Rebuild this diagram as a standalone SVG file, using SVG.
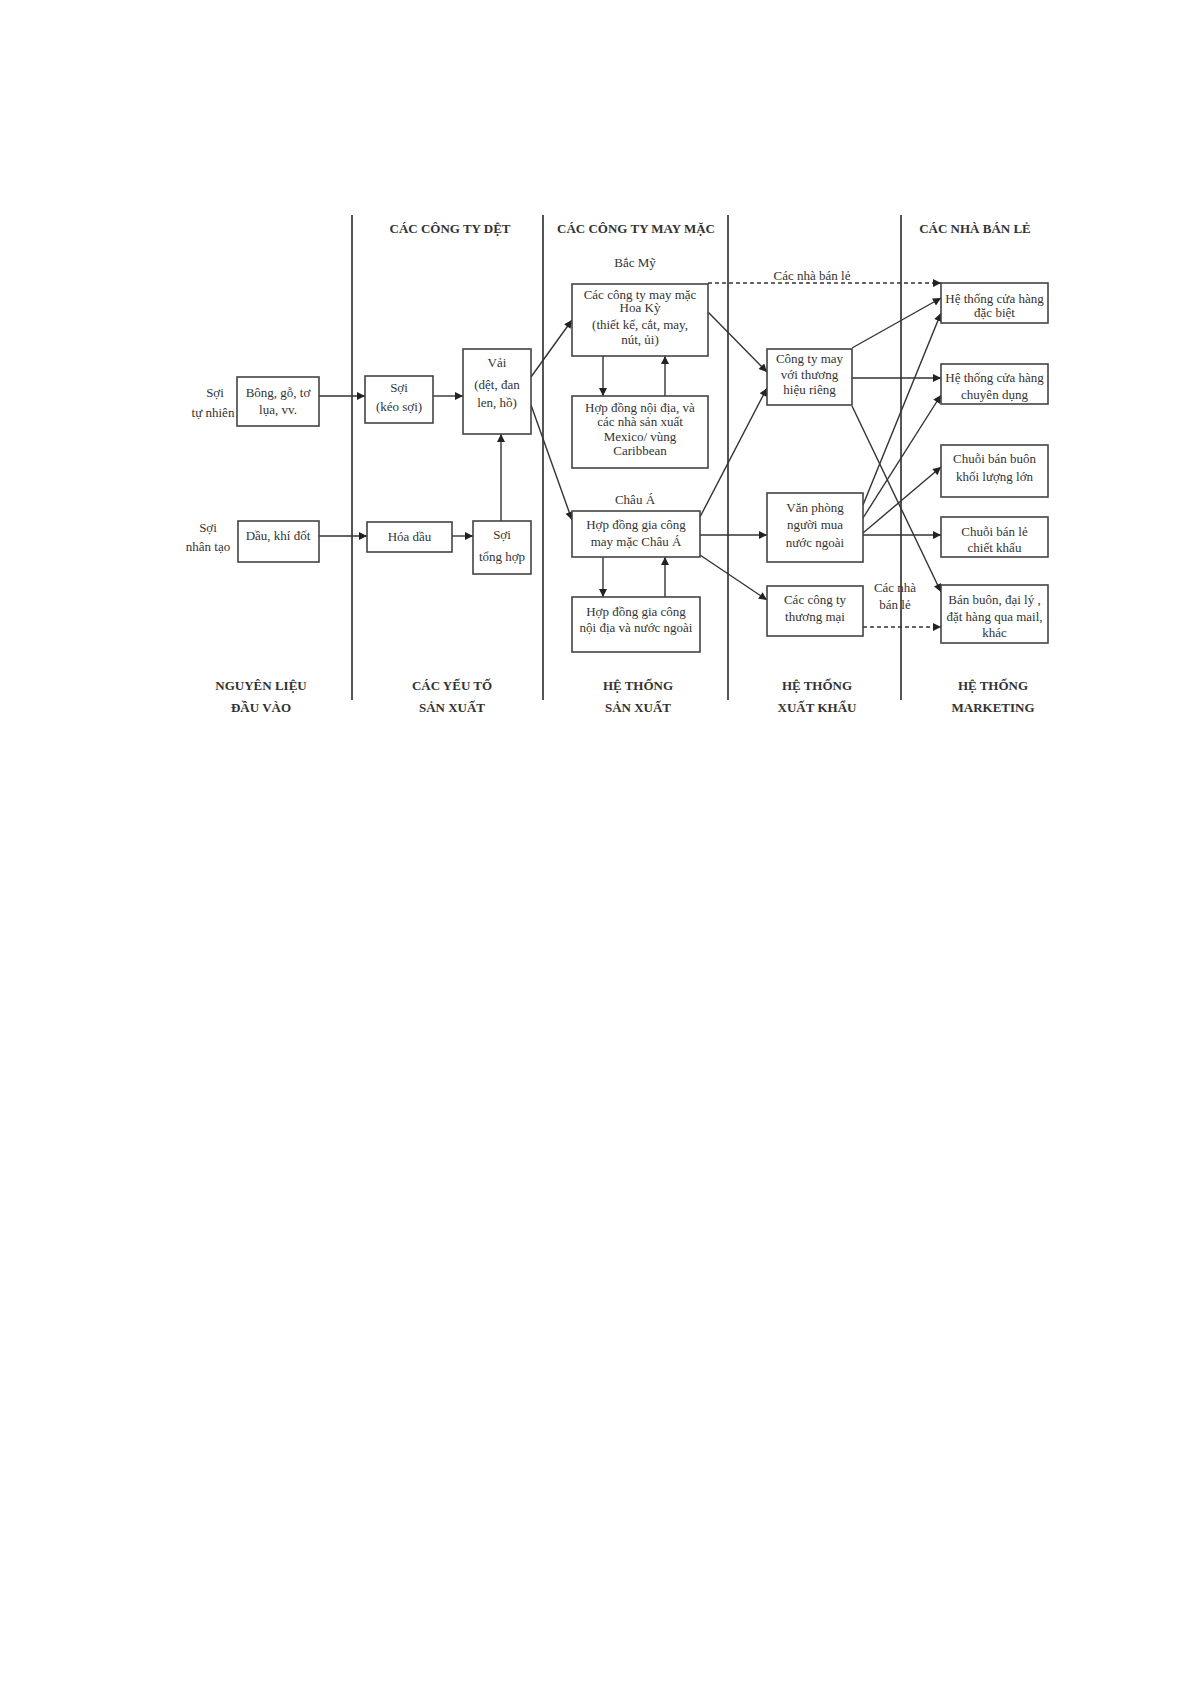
<svg xmlns="http://www.w3.org/2000/svg" width="1192" height="1685" viewBox="0 0 1192 1685">
<defs>
<style>
.bg{fill:#fff}
.box{fill:#fff;stroke:#444;stroke-width:1.6}
.sep{stroke:#555;stroke-width:2}
.t{font-family:"Liberation Serif","Times New Roman",serif;font-size:13px;fill:#333;text-anchor:middle}
.h{font-family:"Liberation Serif","Times New Roman",serif;font-size:13px;font-weight:bold;fill:#333;text-anchor:middle}
.c{stroke:#333;stroke-width:1.4;fill:none;marker-end:url(#ah)}
.d{stroke-dasharray:4,3}
</style>
<marker id="ah" viewBox="0 0 10 10" refX="10" refY="5" markerWidth="9" markerHeight="8" markerUnits="userSpaceOnUse" orient="auto">
<path d="M0,0 L10,5 L0,10 Z" fill="#222"/>
</marker>
</defs>
<rect class="bg" x="0" y="0" width="1192" height="1685"/>

<g id="separators">
<line class="sep" x1="352" y1="215" x2="352" y2="700"/>
<line class="sep" x1="543" y1="215" x2="543" y2="700"/>
<line class="sep" x1="728" y1="215" x2="728" y2="700"/>
<line class="sep" x1="901" y1="215" x2="901" y2="700"/>
</g>

<g id="headers">
<text class="h" x="450" y="233">CÁC CÔNG TY DỆT</text>
<text class="h" x="636" y="233">CÁC CÔNG TY MAY MẶC</text>
<text class="h" x="975" y="233">CÁC NHÀ BÁN LẺ</text>
<text class="h" x="261" y="690">NGUYÊN LIỆU</text>
<text class="h" x="261" y="712">ĐẦU VÀO</text>
<text class="h" x="452" y="690">CÁC YẾU TỐ</text>
<text class="h" x="452" y="712">SẢN XUẤT</text>
<text class="h" x="638" y="690">HỆ THỐNG</text>
<text class="h" x="638" y="712">SẢN XUẤT</text>
<text class="h" x="817" y="690">HỆ THỐNG</text>
<text class="h" x="817" y="712">XUẤT KHẨU</text>
<text class="h" x="993" y="690">HỆ THỐNG</text>
<text class="h" x="993" y="712">MARKETING</text>
</g>

<g id="labels">
<text class="t" x="215" y="397">Sợi</text>
<text class="t" x="213" y="417">tự nhiên</text>
<text class="t" x="208" y="532">Sợi</text>
<text class="t" x="208" y="551">nhân tạo</text>
<text class="t" x="635" y="267">Bắc Mỹ</text>
<text class="t" x="635" y="504">Châu Á</text>
<text class="t" x="812" y="280">Các nhà bán lẻ</text>
<text class="t" x="895" y="592">Các nhà</text>
<text class="t" x="895" y="609">bán lẻ</text>
</g>

<g id="connectors">
<line class="c" x1="319" y1="396" x2="365" y2="396"/>
<line class="c" x1="433" y1="396" x2="463" y2="396"/>
<line class="c" x1="319" y1="536" x2="367" y2="536"/>
<line class="c" x1="452" y1="536" x2="473" y2="536"/>
<line class="c" x1="501" y1="521" x2="501" y2="434"/>
<line class="c" x1="531" y1="377" x2="572" y2="320"/>
<line class="c" x1="531" y1="405" x2="572" y2="520"/>
<line class="c" x1="603" y1="356" x2="603" y2="396"/>
<line class="c" x1="665" y1="396" x2="665" y2="356"/>
<line class="c" x1="603" y1="557" x2="603" y2="597"/>
<line class="c" x1="665" y1="597" x2="665" y2="557"/>
<line class="c" x1="708" y1="312" x2="767" y2="372"/>
<line class="c" x1="700" y1="517" x2="767" y2="388"/>
<line class="c" x1="700" y1="535" x2="767" y2="535"/>
<line class="c" x1="700" y1="555" x2="767" y2="600"/>
<line class="c d" x1="708" y1="283" x2="941" y2="283"/>
<line class="c d" x1="863" y1="627" x2="941" y2="627"/>
<line class="c" x1="852" y1="348" x2="941" y2="298"/>
<line class="c" x1="852" y1="378" x2="941" y2="378"/>
<line class="c" x1="852" y1="406" x2="941" y2="592"/>
<line class="c" x1="863" y1="505" x2="941" y2="313"/>
<line class="c" x1="863" y1="518" x2="941" y2="395"/>
<line class="c" x1="863" y1="533" x2="941" y2="467"/>
<line class="c" x1="863" y1="535" x2="941" y2="535"/>
</g>

<g id="n_bong"><rect class="box" x="237" y="377" width="82" height="49"/>
<text class="t" x="278" y="397">Bông, gỗ, tơ</text><text class="t" x="278" y="414">lụa, vv.</text></g>
<g id="n_soi"><rect class="box" x="365" y="376" width="68" height="47"/>
<text class="t" x="399" y="392">Sợi</text><text class="t" x="399" y="411">(kéo sợi)</text></g>
<g id="n_vai"><rect class="box" x="463" y="349" width="68" height="85"/>
<text class="t" x="497" y="367">Vải</text><text class="t" x="497" y="389">(dệt, đan</text><text class="t" x="497" y="407">len, hồ)</text></g>
<g id="n_dau"><rect class="box" x="238" y="521" width="81" height="41"/>
<text class="t" x="278" y="540">Dầu, khí đốt</text></g>
<g id="n_hoadau"><rect class="box" x="367" y="522" width="85" height="30"/>
<text class="t" x="409.5" y="541">Hóa dầu</text></g>
<g id="n_tonghop"><rect class="box" x="473" y="521" width="58" height="53"/>
<text class="t" x="502" y="539">Sợi</text><text class="t" x="502" y="561">tổng hợp</text></g>
<g id="n_us"><rect class="box" x="572" y="284" width="136" height="72"/>
<text class="t" x="640" y="299">Các công ty may mặc</text><text class="t" x="640" y="312">Hoa Kỳ</text><text class="t" x="640" y="329">(thiết kế, cắt, may,</text><text class="t" x="640" y="344">nút, ủi)</text></g>
<g id="n_mexico"><rect class="box" x="572" y="396" width="136" height="72"/>
<text class="t" x="640" y="412">Hợp đồng nội địa, và</text><text class="t" x="640" y="426">các nhà sản xuất</text><text class="t" x="640" y="441">Mexico/ vùng</text><text class="t" x="640" y="455">Caribbean</text></g>
<g id="n_chaua"><rect class="box" x="572" y="511" width="128" height="46"/>
<text class="t" x="636" y="529">Hợp đồng gia công</text><text class="t" x="636" y="546">may mặc Châu Á</text></g>
<g id="n_noidia"><rect class="box" x="572" y="597" width="128" height="55"/>
<text class="t" x="636" y="616">Hợp đồng gia công</text><text class="t" x="636" y="632">nội địa và nước ngoài</text></g>
<g id="n_ctymay"><rect class="box" x="767" y="349" width="85" height="56"/>
<text class="t" x="809.5" y="363">Công ty may</text><text class="t" x="809.5" y="379">với thương</text><text class="t" x="809.5" y="394">hiệu riêng</text></g>
<g id="n_vanphong"><rect class="box" x="767" y="493" width="96" height="69"/>
<text class="t" x="815" y="512">Văn phòng</text><text class="t" x="815" y="529">người mua</text><text class="t" x="815" y="547">nước ngoài</text></g>
<g id="n_thuongmai"><rect class="box" x="767" y="586" width="96" height="50"/>
<text class="t" x="815" y="604">Các công ty</text><text class="t" x="815" y="621">thương mại</text></g>
<g id="n_dacbiet"><rect class="box" x="941" y="283" width="107" height="40"/>
<text class="t" x="994.5" y="303">Hệ thống cửa hàng</text><text class="t" x="994.5" y="317">đặc biệt</text></g>
<g id="n_chuyendung"><rect class="box" x="941" y="364" width="107" height="40"/>
<text class="t" x="994.5" y="382">Hệ thống cửa hàng</text><text class="t" x="994.5" y="399">chuyên dụng</text></g>
<g id="n_buonlon"><rect class="box" x="941" y="445" width="107" height="52"/>
<text class="t" x="994.5" y="463">Chuỗi bán buôn</text><text class="t" x="994.5" y="481">khối lượng lớn</text></g>
<g id="n_banle"><rect class="box" x="941" y="517" width="107" height="40"/>
<text class="t" x="994.5" y="536">Chuỗi bán lẻ</text><text class="t" x="994.5" y="552">chiết khấu</text></g>
<g id="n_banbuon"><rect class="box" x="941" y="585" width="107" height="58"/>
<text class="t" x="994.5" y="604">Bán buôn, đại lý ,</text><text class="t" x="994.5" y="621">đặt hàng qua mail,</text><text class="t" x="994.5" y="637">khác</text></g>
</svg>
